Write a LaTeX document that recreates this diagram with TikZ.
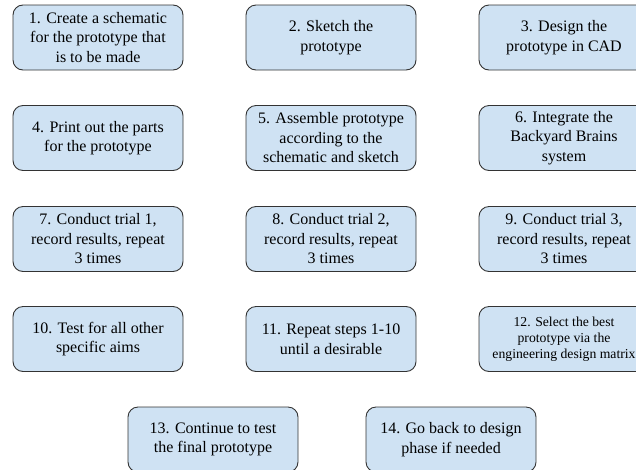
\documentclass[tikz,border=0pt]{standalone}
\usepackage{fontspec}
\setmainfont{Liberation Serif}
\definecolor{boxfill}{HTML}{CFE2F3}
\definecolor{boxline}{HTML}{333333}
\begin{document}
\begin{tikzpicture}[x=1pt,y=-1pt,
  stepbox/.style={draw=boxline, line width=0.9pt, fill=boxfill, rounded corners=10pt,
    minimum width=170pt, minimum height=65pt, inner sep=0pt, align=center,
    font=\fontsize{16}{19.5}\selectfont},
  smallbox/.style={stepbox, font=\fontsize{13.7}{16}\selectfont}]
\useasboundingbox (0,0) rectangle (636,469);
\node[stepbox] (n1) at (98,37.5) {1. Create a schematic\\for the prototype that\\is to be made};
\node[stepbox] (n2) at (331,37.5) {2. Sketch the\\prototype};
\node[stepbox] (n3) at (564,37.5) {3. Design the\\prototype in CAD};
\node[stepbox] (n4) at (98,138) {4. Print out the parts\\for the prototype};
\node[stepbox] (n5) at (331,138) {5. Assemble prototype\\according to the\\schematic and sketch};
\node[stepbox] (n6) at (564,138) {6. Integrate the\\Backyard Brains\\system};
\node[stepbox] (n7) at (98,239) {7. Conduct trial 1,\\record results, repeat\\3 times};
\node[stepbox] (n8) at (331,239) {8. Conduct trial 2,\\record results, repeat\\3 times};
\node[stepbox] (n9) at (564,239) {9. Conduct trial 3,\\record results, repeat\\3 times};
\node[stepbox] (n10) at (98,339) {10. Test for all other\\specific aims};
\node[stepbox] (n11) at (331,339) {11. Repeat steps 1-10\\until a desirable};
\node[smallbox] (n12) at (564,339) {12. Select the best\\prototype via the\\engineering design matrix};
\node[stepbox] (n13) at (213,439.5) {13. Continue to test\\the final prototype};
\node[stepbox] (n14) at (451,439.5) {14. Go back to design\\phase if needed};
\end{tikzpicture}
\end{document}
